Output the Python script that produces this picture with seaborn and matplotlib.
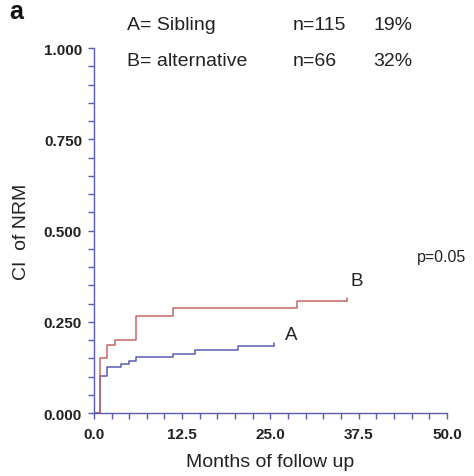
import numpy as np
import pandas as pd
import matplotlib
matplotlib.use("Agg")
import matplotlib.pyplot as plt
import seaborn as sns
from matplotlib.ticker import MultipleLocator, FormatStrFormatter

# Step data (time in months, cumulative incidence)
a_time = [0.0, 0.8, 1.9, 3.9, 5.0, 6.0, 11.2, 14.3, 20.4, 25.5]
a_ci   = [0.0, 0.101, 0.125, 0.134, 0.143, 0.153, 0.162, 0.173, 0.183, 0.183]
b_time = [0.0, 0.8, 1.8, 3.0, 6.0, 11.2, 28.7, 35.8]
b_ci   = [0.0, 0.150, 0.187, 0.200, 0.267, 0.288, 0.307, 0.307]
groups = ["A", "B"]
colors = {"A": "#5a5ab4", "B": "#c86464"}

header_labels = ["A= Sibling", "B= alternative"]
header_n = ["n=115", "n=66"]
header_pct = ["19%", "32%"]

df = pd.concat([
    pd.DataFrame({"time": a_time, "ci": a_ci, "group": "A"}),
    pd.DataFrame({"time": b_time, "ci": b_ci, "group": "B"}),
])

sns.set_style("white")
plt.rcParams['font.family'] = ['Liberation Sans', 'DejaVu Sans']

fig = plt.figure(figsize=(4.74, 4.77), dpi=100)
ax = fig.add_axes([0.198, 0.132, 0.745, 0.765])

sns.lineplot(data=df, x="time", y="ci", hue="group", palette=colors,
             drawstyle="steps-post", estimator=None, sort=False,
             linewidth=1.1, legend=False, ax=ax)

# censor tick at the end of each curve
for g, t, c in [("A", a_time, a_ci), ("B", b_time, b_ci)]:
    ax.plot([t[-1], t[-1]], [c[-1], c[-1] + 0.008], color=colors[g], lw=1.1)

ax.set_xlim(0, 50)
ax.set_ylim(0, 1.0)
ax.xaxis.set_major_locator(MultipleLocator(12.5))
ax.xaxis.set_minor_locator(MultipleLocator(2.5))
ax.yaxis.set_major_locator(MultipleLocator(0.25))
ax.yaxis.set_minor_locator(MultipleLocator(0.05))
ax.xaxis.set_major_formatter(FormatStrFormatter("%.1f"))
ax.yaxis.set_major_formatter(FormatStrFormatter("%.3f"))

axis_col = "#5a5ab4"
for s in ["top", "right"]:
    ax.spines[s].set_visible(False)
for s in ["left", "bottom"]:
    ax.spines[s].set_color(axis_col)
    ax.spines[s].set_linewidth(1.0)

ax.tick_params(axis="both", which="both", direction="out", color=axis_col,
               bottom=True, left=True)
ax.tick_params(axis="both", which="major", length=4, width=1.0, labelsize=11)
ax.tick_params(axis="x", which="major", pad=6)
ax.tick_params(axis="y", which="major", pad=4.5)
ax.tick_params(axis="both", which="minor", length=4, width=1.0)
for lab in ax.get_xticklabels() + ax.get_yticklabels():
    lab.set_fontweight("bold")
    lab.set_color("#222222")

ax.set_xlabel("Months of follow up", fontsize=14, labelpad=9, color="#222222")
ax.set_ylabel("CI  of NRM", fontsize=14, labelpad=10, color="#222222")

ax.text(27.0, 0.203, "A", fontsize=13.5, color="#222222")
ax.text(36.3, 0.35, "B", fontsize=13.5, color="#222222")
ax.text(45.8, 0.43, "p=0.05", fontsize=11.5, color="#222222", va="center")

fig.text(0.02, 0.975, "a", fontsize=18, fontweight="bold", color="#111111", va="center")
row_y = [0.9465, 0.872]
for i in range(2):
    fig.text(0.268, row_y[i], header_labels[i], fontsize=14, color="#222222", va="center")
    fig.text(0.618, row_y[i], header_n[i], fontsize=14, color="#222222", va="center")
    fig.text(0.787, row_y[i], header_pct[i], fontsize=14, color="#222222", va="center")

fig.savefig("out.png", dpi=100)
